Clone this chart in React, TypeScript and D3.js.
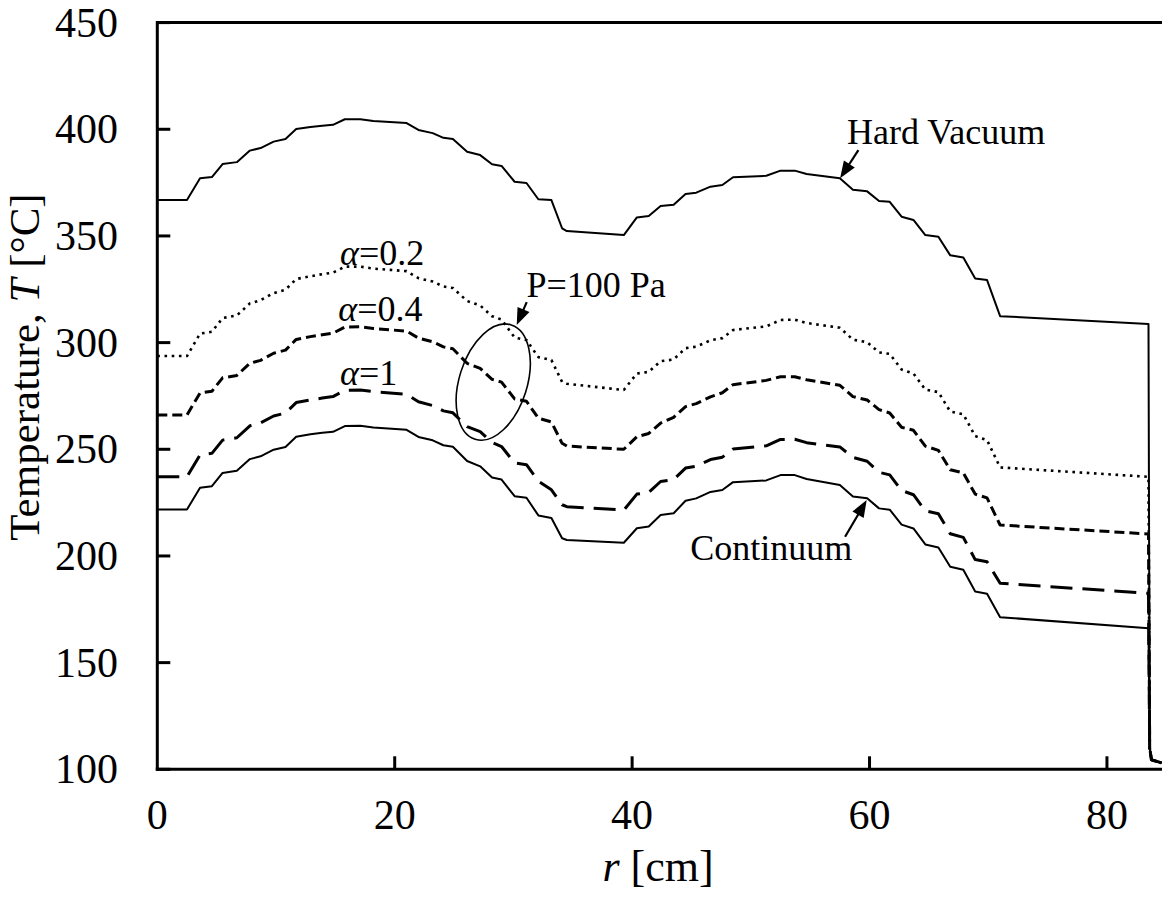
import React from 'react';
import * as d3 from 'd3';

// radial positions (cm) shared by all curves
const radius = [
  0, 2.5, 3.6, 4.6, 5.5, 6.7, 7.8, 8.7, 9.8, 10.8,
  11.7, 12.9, 13.9, 14.8, 15.8, 17.1, 18.2, 21.0, 22.0, 23.2,
  24.1, 24.9, 26.1, 27.2, 28.2, 29.0, 30.1, 31.1, 32.1, 33.2,
  34.1, 34.5, 39.3, 40.4, 41.4, 42.4, 43.5, 44.5, 45.4, 46.6,
  47.6, 48.5, 51.3, 52.5, 53.7, 54.7, 57.5, 58.6, 59.8, 60.8,
  61.7, 62.7, 63.7, 64.7, 65.8, 66.8, 67.9, 68.9, 69.9, 71.0,
  83.5,
];

const hardVacuum = [
  366.8, 366.8, 377.0, 377.6, 383.7, 384.6, 390.0, 391.2, 394.2, 395.4,
  400.1, 401.1, 401.7, 402.1, 404.7, 404.7, 403.9, 402.9, 399.7, 398.2,
  396.0, 395.4, 389.5, 387.9, 383.6, 382.8, 375.4, 374.8, 367.2, 366.8,
  353.6, 352.3, 350.4, 358.7, 359.3, 364.0, 364.6, 369.7, 370.3, 373.1,
  373.9, 377.5, 378.2, 380.6, 380.6, 379.0, 377.0, 371.7, 370.9, 366.4,
  366.0, 359.0, 357.5, 350.4, 349.6, 340.9, 339.9, 330.1, 329.3, 312.4,
  308.7,
];

const alpha02 = [
  293.7, 293.7, 304.2, 305.1, 311.5, 312.7, 318.4, 319.9, 323.2, 324.8,
  329.8, 331.1, 332.1, 332.8, 335.6, 335.6, 334.7, 333.5, 330.2, 328.6,
  326.3, 325.6, 319.5, 317.4, 312.4, 310.8, 302.4, 301.2, 293.2, 291.8,
  281.6, 280.7, 277.8, 285.5, 286.3, 291.3, 292.1, 297.4, 298.1, 301.1,
  302.1, 305.9, 307.6, 310.6, 310.8, 309.2, 307.0, 301.4, 300.2, 295.4,
  294.7, 287.4, 285.5, 278.0, 276.8, 267.7, 266.4, 256.2, 254.3, 241.5,
  237.1,
];

const alpha04 = [
  266.1, 266.1, 276.4, 277.2, 283.5, 284.6, 290.3, 291.7, 295.0, 296.5,
  301.5, 302.8, 303.7, 304.4, 307.3, 307.4, 306.6, 305.4, 302.1, 300.4,
  298.0, 297.1, 290.3, 287.9, 282.8, 281.5, 273.6, 272.5, 264.6, 262.8,
  252.8, 251.5, 250.0, 255.9, 257.4, 262.3, 265.0, 270.0, 271.4, 274.6,
  276.5, 280.3, 282.3, 284.0, 284.0, 282.6, 280.0, 274.7, 273.1, 268.6,
  267.0, 260.3, 258.9, 251.5, 249.5, 240.4, 238.9, 229.0, 227.2, 214.5,
  210.3,
];

const alpha1 = [
  237.1, 237.1, 247.4, 248.1, 254.3, 255.4, 261.0, 262.4, 265.6, 267.0,
  271.9, 273.1, 274.0, 274.7, 277.6, 277.8, 277.0, 275.8, 272.3, 270.5,
  268.0, 267.1, 260.6, 258.3, 253.2, 251.3, 243.6, 242.8, 235.0, 231.0,
  224.0, 223.1, 221.5, 229.0, 229.8, 234.9, 235.8, 241.2, 242.1, 245.2,
  246.3, 250.1, 251.6, 254.6, 254.7, 253.1, 251.1, 246.2, 244.4, 239.2,
  238.0, 230.7, 228.7, 221.1, 219.8, 210.4, 208.7, 198.3, 197.3, 187.2,
  182.5,
];

const continuum = [
  221.8, 221.8, 232.0, 232.7, 238.9, 239.9, 245.4, 246.7, 249.8, 251.1,
  255.9, 257.0, 257.7, 258.2, 260.9, 261.0, 260.2, 259.1, 255.8, 254.2,
  251.9, 251.2, 244.5, 242.0, 236.8, 235.8, 228.0, 227.3, 219.0, 217.8,
  208.3, 207.5, 206.2, 213.0, 213.8, 219.2, 220.0, 225.9, 227.0, 230.0,
  230.9, 234.6, 235.4, 237.9, 237.9, 236.1, 233.3, 227.9, 227.0, 222.3,
  221.7, 214.7, 212.9, 205.4, 204.0, 194.9, 193.5, 183.3, 182.3, 171.3,
  166.1,
];

// sharp drop at the outer wall (shared by all curves)
const tailRadius = [83.6, 83.75, 84.6];
const tailTemp = [110, 104.5, 103];

const xTicks = [0, 20, 40, 60, 80];
const yTicks = [100, 150, 200, 250, 300, 350, 400, 450];

const seriesNames = ['hardVacuum', 'alpha02', 'alpha04', 'alpha1', 'continuum'];
const seriesValues = [hardVacuum, alpha02, alpha04, alpha1, continuum];

const styles: Record<string, { width: number; dash: string | null }> = {
  hardVacuum: { width: 2, dash: null },
  alpha02: { width: 2.6, dash: '2.6,4.6' },
  alpha04: { width: 3, dash: '10,5' },
  alpha1: { width: 3, dash: '22,10' },
  continuum: { width: 2, dash: null },
};

// annotation anchors in data units [r, T]
const arrows = [
  { from: [59.06, 390.2], to: [57.52, 377.0] },
  { from: [31.12, 319.0], to: [30.28, 308.2] },
  { from: [57.94, 209.0], to: [59.76, 226.2] },
];
const labels = [
  { text: 'Hard Vacuum', at: [58.1, 393.0], alpha: false },
  { text: 'P=100 Pa', at: [31.1, 321.5], alpha: false },
  { text: 'Continuum', at: [44.9, 198.1], alpha: false },
  { text: '=0.2', at: [15.4, 336.6], alpha: true },
  { text: '=0.4', at: [15.25, 309.9], alpha: true },
  { text: '=1', at: [15.4, 279.9], alpha: true },
];
const ellipseCenter = [28.3, 281.5];
const ellipseRadii = [2.86, 28.1]; // cm, °C
const ellipseTilt = 17.5;

const FONT = "'Liberation Serif', 'Times New Roman', Times, serif";

export default function App() {
  const W = 1162;
  const H = 903;
  const x = d3.scaleLinear().domain([0, 85]).range([157.3, 1166.3]);
  const y = d3.scaleLinear().domain([100, 450]).range([769.3, 22.6]);
  const line = d3
    .line<[number, number]>()
    .x((d) => x(d[0]))
    .y((d) => y(d[1]))
    .curve(d3.curveLinear);

  const paths = seriesNames.map((name, i) => {
    const pts: [number, number][] = radius.map((r, j) => [r, seriesValues[i][j]]);
    tailRadius.forEach((r, j) => pts.push([r, tailTemp[j]]));
    return { name, d: line(pts) as string };
  });

  const x0 = x(0);
  const x1 = x(85);
  const yTop = y(450);
  const yBot = y(100);

  const arrowEls = arrows.map((a, i) => {
    const sx = x(a.from[0]);
    const sy = y(a.from[1]);
    const tx = x(a.to[0]);
    const ty = y(a.to[1]);
    const dx = tx - sx;
    const dy = ty - sy;
    const len = Math.hypot(dx, dy);
    const ux = dx / len;
    const uy = dy / len;
    const nx = -uy;
    const ny = ux;
    const L = 17;
    const w = 6.5;
    const bx = tx - ux * L;
    const by = ty - uy * L;
    const head = `M${tx},${ty}L${bx + nx * w},${by + ny * w}L${bx - nx * w},${by - ny * w}Z`;
    return (
      <g key={'a' + i}>
        <line x1={sx} y1={sy} x2={bx + ux * 2} y2={by + uy * 2} stroke="#000" strokeWidth={2.2} />
        <path d={head} fill="#000" />
      </g>
    );
  });

  const erx = x(ellipseRadii[0]) - x(0);
  const ery = y(0) - y(ellipseRadii[1]);
  const ecx = x(ellipseCenter[0]);
  const ecy = y(ellipseCenter[1]);

  return (
    <svg width={W} height={H} style={{ position: 'absolute', left: 0, top: 0, background: '#fff' }}>
      <rect x={0} y={0} width={W} height={H} fill="#fff" />
      {paths.map((p) => {
        const s = styles[p.name];
        return (
          <path
            key={p.name}
            d={p.d}
            fill="none"
            stroke="#000"
            strokeWidth={s.width}
            strokeDasharray={s.dash ?? undefined}
            strokeLinejoin="round"
          />
        );
      })}

      {/* frame */}
      <line x1={x0} y1={yTop} x2={x1} y2={yTop} stroke="#000" strokeWidth={3} />
      <line x1={x0} y1={yTop - 1.5} x2={x0} y2={yBot + 1.5} stroke="#000" strokeWidth={3} />
      <line x1={x0 - 1.5} y1={yBot} x2={x1} y2={yBot} stroke="#000" strokeWidth={3} />
      <line x1={x1} y1={yTop} x2={x1} y2={yBot} stroke="#000" strokeWidth={3} />

      {/* ticks */}
      {yTicks.map((t) => (
        <g key={'yt' + t}>
          <line x1={x0} x2={x0 + 13} y1={y(t)} y2={y(t)} stroke="#000" strokeWidth={3} />
          <text x={118} y={y(t) + 14} textAnchor="end" fontSize={42} fill="#000" style={{ fontFamily: FONT }}>
            {t}
          </text>
        </g>
      ))}
      {xTicks.map((t) => (
        <g key={'xt' + t}>
          {t > 0 && <line x1={x(t)} x2={x(t)} y1={yBot} y2={yBot - 13} stroke="#000" strokeWidth={3} />}
          <text x={x(t)} y={829} textAnchor="middle" fontSize={42} fill="#000" style={{ fontFamily: FONT }}>
            {t}
          </text>
        </g>
      ))}

      {/* axis titles */}
      <text x={658} y={881} textAnchor="middle" fontSize={44} fill="#000" style={{ fontFamily: FONT }}>
        <tspan fontStyle="italic">r</tspan> [cm]
      </text>
      <text
        transform="translate(39,367) rotate(-90)"
        textAnchor="middle"
        fontSize={43}
        fill="#000"
        style={{ fontFamily: FONT }}
      >
        Temperature, <tspan fontStyle="italic">T</tspan> [°C]
      </text>

      {/* annotations */}
      <ellipse
        cx={ecx}
        cy={ecy}
        rx={erx}
        ry={ery}
        fill="none"
        stroke="#000"
        strokeWidth={1.6}
        transform={`rotate(${ellipseTilt},${ecx},${ecy})`}
      />
      {arrowEls}
      {labels.map((l, i) => (
        <text
          key={'l' + i}
          x={x(l.at[0])}
          y={y(l.at[1])}
          fontSize={36}
          fill="#000"
          style={{ fontFamily: FONT }}
        >
          {l.alpha && <tspan fontStyle="italic">α</tspan>}
          {l.text}
        </text>
      ))}
    </svg>
  );
}
